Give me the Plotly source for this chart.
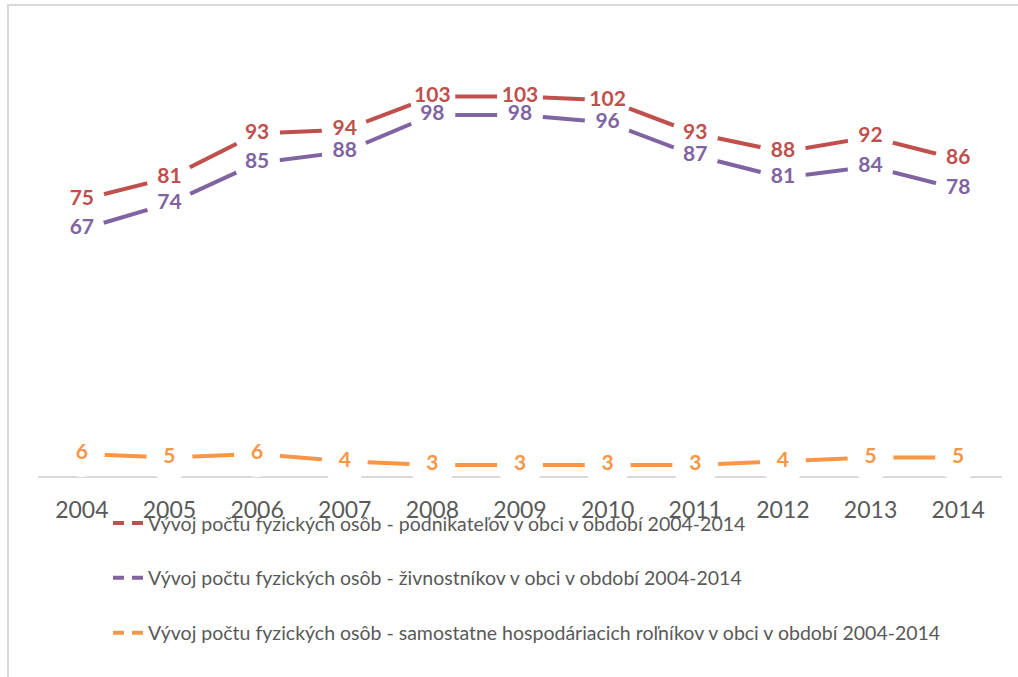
import plotly.graph_objects as go

years = ["2004", "2005", "2006", "2007", "2008", "2009", "2010", "2011", "2012", "2013", "2014"]
podnikatelia = [75, 81, 93, 94, 103, 103, 102, 93, 88, 92, 86]
zivnostnici = [67, 74, 85, 88, 98, 98, 96, 87, 81, 84, 78]
rolnici = [6, 5, 6, 4, 3, 3, 3, 3, 4, 5, 5]

names = [
    "Vývoj počtu fyzických osôb - podnikateľov v obci v období 2004-2014",
    "Vývoj počtu fyzických osôb - živnostníkov v obci v období 2004-2014",
    "Vývoj počtu fyzických osôb - samostatne hospodáriacich roľníkov v obci v období 2004-2014",
]
colors = ["#C0504D", "#8064A2", "#F79646"]
series = [podnikatelia, zivnostnici, rolnici]

fig = go.Figure()
# lines with white markers (gaps behind labels)
for i, (vals, nm, col) in enumerate(zip(series, names, colors)):
    fig.add_trace(go.Scatter(
        x=years, y=vals, name=nm, mode="lines+markers",
        line=dict(color=col, width=4),
        marker=dict(color="white", size=46, line=dict(width=0)),
        showlegend=False, cliponaxis=False, hoverinfo="skip",
    ))
# legend entries (dashed symbol like the original)
for i, (nm, col) in enumerate(zip(names, colors)):
    fig.add_trace(go.Scatter(
        x=years, y=[None] * len(years), name=nm, mode="lines",
        line=dict(color=col, width=4, dash="11px,8px"),
        legendgroup=f"g{i}", hoverinfo="skip",
    ))
# data labels on top of everything
for i, (vals, col) in enumerate(zip(series, colors)):
    fig.add_trace(go.Scatter(
        x=years, y=vals, mode="text", text=[str(v) for v in vals],
        textposition="middle center",
        textfont=dict(family="Lato", size=21, color=col, weight="bold"),
        showlegend=False, cliponaxis=False, hoverinfo="skip",
    ))

fig.update_layout(
    width=1018, height=677,
    margin=dict(l=38, r=16, t=34, b=201),
    paper_bgcolor="white", plot_bgcolor="white",
    showlegend=True,
    legend=dict(
        x=0.0726, xanchor="left", y=-0.063, yanchor="top",
        font=dict(family="Lato", size=19.5, color="#595959"),
        tracegroupgap=26.5, bgcolor="rgba(0,0,0,0)",
    ),
    xaxis=dict(
        type="category", range=[-0.5, 10.5], showgrid=False, zeroline=False,
        showline=True, linecolor="#D9D9D9", linewidth=1.5, layer="below traces",
        ticks="", tickfont=dict(family="Lato", size=23, color="#595959"),
        ticklabelstandoff=13,
    ),
    yaxis=dict(range=[0, 120], visible=False, showgrid=False, zeroline=False),
    shapes=[dict(
        type="rect", xref="paper", yref="paper",
        x0=-0.0311, x1=1.2, y0=-1.0, y1=1.0656,
        line=dict(color="#D9D9D9", width=2), layer="below",
    )],
)

fig.write_html("out.html", config={"displayModeBar": False},
               post_script="document.body.style.margin='0';")
